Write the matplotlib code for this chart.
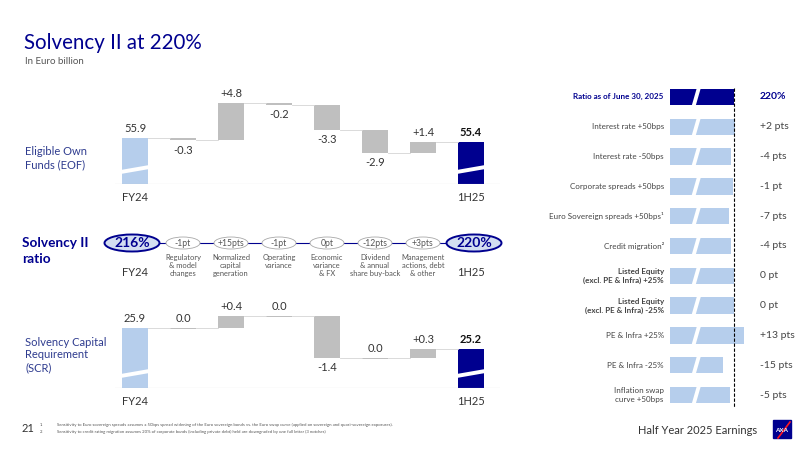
import numpy as np
import matplotlib
matplotlib.use('Agg')
import matplotlib.pyplot as plt
from matplotlib.patches import Polygon, Ellipse, Rectangle

plt.rcParams['font.family'] = ['Lato', 'DejaVu Sans']

NAVY = '#00008F'
LIGHT = '#B6CEEC'
GREY = '#BFBFBF'
TXT = '#444444'
LBL = '#2F3C8F'

# ---- data ----
eof_start = 55.9
eof_deltas = [-0.3, 4.8, -0.2, -3.3, -2.9, 1.4]
eof_end = 55.4
scr_start = 25.9
scr_deltas = [0.0, 0.4, 0.0, -1.4, 0.0, 0.3]
scr_end = 25.2
periods = ['FY24', '1H25']

ratio_start = '216%'
ratio_end = '220%'
ratio_steps = ['-1pt', '+15pts', '-1pt', '0pt', '-12pts', '+3pts']
step_names = ['Regulatory\n& model\nchanges', 'Normalized\ncapital\ngeneration',
              'Operating\nvariance', 'Economic\nvariance\n& FX',
              'Dividend\n& annual\nshare buy-back', 'Management\nactions, debt\n& other']

sens_base = 220
sens_labels = ['Interest rate +50bps', 'Interest rate -50bps', 'Corporate spreads +50bps',
               'Euro Sovereign spreads +50bps\u00b9', 'Credit migration\u00b2',
               'Listed Equity\n(excl. PE & Infra) +25%', 'Listed Equity\n(excl. PE & Infra) -25%',
               'PE & Infra +25%', 'PE & Infra -25%', 'Inflation swap\ncurve +50bps']
sens_values = [2, -4, -1, -7, -4, 0, 0, 13, -15, -5]
sens_text = ['+2 pts', '-4 pts', '-1 pt', '-7 pts', '-4 pts', '0 pt', '0 pt',
             '+13 pts', '-15 pts', '-5 pts']

fig = plt.figure(figsize=(8, 4.5), dpi=100)

def px_axes(left, top, width, height):
    return fig.add_axes([left / 800, 1 - (top + height) / 450, width / 800, height / 450])

bg = fig.add_axes([0, 0, 1, 1])
bg.set_xlim(0, 800)
bg.set_ylim(450, 0)
bg.axis('off')

COL0, STEP = 135, 48   # pixel centre of first column and column spacing


def waterfall(ax, start, deltas, end, bottom, scale):
    n = len(deltas) + 2
    w = 0.56
    cum = start + np.concatenate([[0], np.cumsum(deltas)])
    ax.bar(0, start - bottom, bottom=bottom, width=w, color=LIGHT)
    ax.bar(n - 1, end - bottom, bottom=bottom, width=w, color=NAVY)
    ax.annotate(f'{start:.1f}', (0, start), xytext=(0, 3), textcoords='offset points',
                ha='center', va='bottom', fontsize=8, color='#333333')
    ax.annotate(f'{end:.1f}', (n - 1, end), xytext=(0, 3), textcoords='offset points',
                ha='center', va='bottom', fontsize=8, color='#111111', fontweight='bold')
    for i, d in enumerate(deltas):
        lo = min(cum[i], cum[i + 1])
        h = max(abs(d), 1.2 / scale)
        ax.bar(i + 1, h, bottom=lo if d != 0 else cum[i] - h, width=w, color=GREY)
        txt = '0.0' if d == 0 else f'{d:+.1f}'
        if d >= 0:
            ax.annotate(txt, (i + 1, cum[i + 1]), xytext=(0, 3), textcoords='offset points',
                        ha='center', va='bottom', fontsize=8, color='#333333')
        else:
            ax.annotate(txt, (i + 1, lo), xytext=(0, -3), textcoords='offset points',
                        ha='center', va='top', fontsize=8, color='#333333')
    # connectors
    for i in range(n - 1):
        ax.plot([i + w / 2, i + 1 - w / 2], [cum[i], cum[i]], color='#D5D5D5', lw=0.6)
    # break marks on the total bars
    for xc in (0, n - 1):
        xl, xr = xc - w / 2 - 0.02, xc + w / 2 + 0.02
        pts = [(xl, bottom + 10 / scale), (xr, bottom + 15 / scale),
               (xr, bottom + 19 / scale), (xl, bottom + 14 / scale)]
        ax.add_patch(Polygon(pts, closed=True, color='white', lw=0, zorder=3))
    ax.axhline(bottom, color=GREY, lw=0.8)
    for xc, lab in zip((0, n - 1), periods):
        ax.annotate(lab, (xc, bottom), xytext=(0, -6), textcoords='offset points',
                    ha='center', va='top', fontsize=8, color='#333333', annotation_clip=False)
    ax.set_xlim((115 - COL0) / STEP, (500 - COL0) / STEP)
    ax.axis('off')


# EOF waterfall: baseline at y=184 px, 7.7 px per unit
ax1 = px_axes(115, 84, 385, 100)
waterfall(ax1, eof_start, eof_deltas, eof_end, 49.93, 7.7)
ax1.set_ylim(49.93, 49.93 + 100 / 7.7)

# SCR waterfall: baseline at y=388 px, 30 px per unit
ax2 = px_axes(115, 290, 385, 98)
waterfall(ax2, scr_start, scr_deltas, scr_end, 23.9, 30)
ax2.set_ylim(23.9, 23.9 + 98 / 30)

# ---- Solvency II ratio row ----
yr = 243
xs = [COL0 + STEP * i for i in range(len(ratio_steps) + 2)]
bg.plot([xs[0], xs[-1]], [yr, yr], color=NAVY, lw=0.8, zorder=1)
for x, lab in zip(xs[1:-1], ratio_steps):
    bg.add_patch(Ellipse((x, yr), 34, 12, facecolor='white', edgecolor='#A8A8A8', lw=0.6, zorder=2))
    bg.text(x, yr, lab, ha='center', va='center', fontsize=6.2, color='#555555', zorder=3)
for x, lab in ((xs[0] - 3, ratio_start), (xs[-1] + 3, ratio_end)):
    bg.add_patch(Ellipse((x, yr), 55, 17, facecolor='#D3DEF1', edgecolor=NAVY, lw=1.4, zorder=2))
    bg.text(x, yr, lab, ha='center', va='center', fontsize=10, color=NAVY,
            fontweight='bold', zorder=3)
for x, name in zip(xs[1:-1], step_names):
    bg.text(x, 254, name, ha='center', va='top', fontsize=5.4, color='#555555', linespacing=1.15)
bg.text(xs[0], 272, periods[0], ha='center', va='center', fontsize=8, color='#333333')
bg.text(xs[-1], 272, periods[1], ha='center', va='center', fontsize=8, color='#333333')
bg.text(22, 251, 'Solvency II\nratio', ha='left', va='center', fontsize=9.8,
        fontweight='bold', color=NAVY, linespacing=1.35)

# side labels
bg.text(25, 158, 'Eligible Own\nFunds (EOF)', ha='left', va='center', fontsize=8, color=LBL)
bg.text(25, 355, 'Solvency Capital\nRequirement\n(SCR)', ha='left', va='center',
        fontsize=8, color=LBL)

# title
bg.text(24, 49, 'Solvency II at 220%', ha='left', va='baseline', fontsize=14.8, color=NAVY)
bg.text(25, 61, 'In Euro billion', ha='left', va='center', fontsize=7, color='#555555')

# ---- sensitivities ----
x0 = 134.7          # left edge of the (broken) bars, ratio points
sc = 0.75           # px per ratio point
ax3 = px_axes(670, 82, 90, 328)
ax3.set_xlim(x0, x0 + 90 / sc)
ax3.set_ylim(10.5, -0.5)
ax3.axis('off')
vals = [sens_base] + [sens_base + v for v in sens_values]
cols = [NAVY] + [LIGHT] * len(sens_values)
rows = np.arange(len(vals))
ax3.barh(rows, [v - x0 for v in vals], left=x0, height=0.55, color=cols)
gx = lambda p: x0 + (p - 670) / sc
for r in rows:
    pts = [(gx(691.5), r + 0.32), (gx(695.5), r + 0.32), (gx(701), r - 0.32), (gx(697), r - 0.32)]
    ax3.add_patch(Polygon(pts, closed=True, color='white', lw=0, zorder=3))
ax3.plot([sens_base, sens_base], [-0.3, 10.4], color='black', lw=0.8, ls=(0, (3, 1.5)), zorder=4)

all_labels = ['Ratio as of June 30, 2025'] + sens_labels
all_text = ['220%'] + sens_text
for r, lab, vt in zip(rows, all_labels, all_text):
    first = r == 0
    bold = first or lab.startswith('Listed')
    ax3.annotate(lab, (x0, r), xytext=(-4.5, 0), textcoords='offset points', ha='right',
                 va='center', fontsize=5.8, color=NAVY if first else TXT,
                 fontweight='bold' if bold else 'normal', annotation_clip=False,
                 linespacing=1.3)
    ax3.annotate(vt, (1, r), xycoords=('axes fraction', 'data'), xytext=(0, 0),
                 textcoords='offset points', ha='left', va='center',
                 fontsize=7.5, color=NAVY if first else TXT,
                 fontweight='bold' if first else 'normal', annotation_clip=False)

# ---- footer ----
bg.text(22, 428, '21', ha='left', va='center', fontsize=8, color='#333333')
bg.text(40, 425, '1.', ha='left', va='center', fontsize=3.1, color='#555555')
bg.text(40, 432, '2.', ha='left', va='center', fontsize=3.1, color='#555555')
bg.text(57, 425, 'Sensitivity to Euro sovereign spreads assumes a 50bps spread widening of the Euro '
        'sovereign bonds vs. the Euro swap curve (applied on sovereign and quasi-sovereign exposures).',
        ha='left', va='center', fontsize=3.1, color='#555555')
bg.text(57, 432, 'Sensitivity to credit rating migration assumes 20% of corporate bonds (including '
        'private debt) held are downgraded by one full letter (3 notches)',
        ha='left', va='center', fontsize=3.1, color='#555555')
bg.text(757, 430, 'Half Year 2025 Earnings', ha='right', va='center', fontsize=8, color='#333333')
bg.add_patch(Rectangle((773, 420), 18, 18, color=NAVY))
bg.text(782, 431, 'AXA', ha='center', va='center', fontsize=4.5, color='white', fontweight='bold')
bg.plot([778, 790], [438, 422], color='#FF1721', lw=1.2)

fig.savefig('out.png', dpi=100)
